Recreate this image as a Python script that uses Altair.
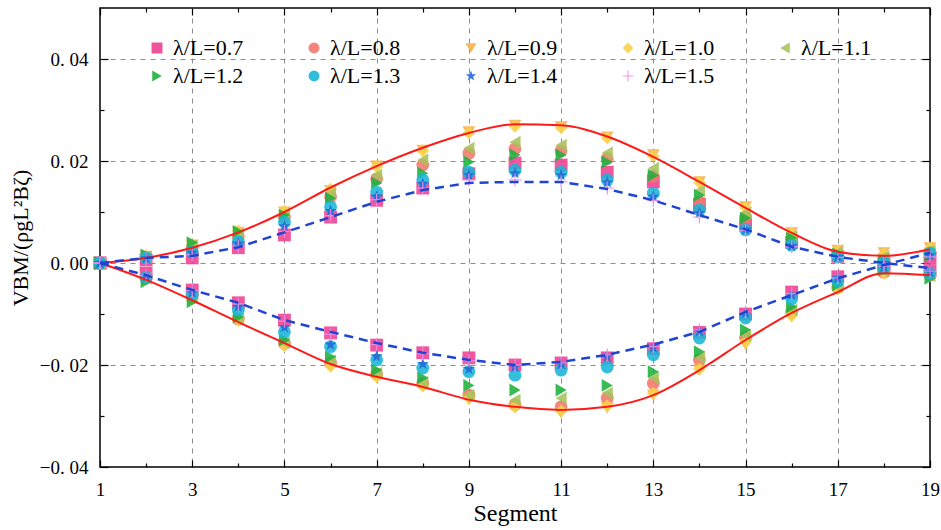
import altair as alt
import pandas as pd

# ---------------- data (VBM values in units of 1e-3) ----------------
segments = list(range(1, 20))
series = ["λ/L=0.7", "λ/L=0.8", "λ/L=0.9", "λ/L=1.0", "λ/L=1.1",
          "λ/L=1.2", "λ/L=1.3", "λ/L=1.4", "λ/L=1.5"]

up_07 = [0, 0.6, 1.0, 3.0, 5.5, 9.0, 12.3, 14.7, 17.5, 19.6, 19.2, 17.8, 15.9, 11.5, 7.5, 4.0, 1.3, -0.2, 1.0]
up_08 = [0, 1.1, 3.0, 5.2, 9.0, 13.0, 16.5, 19.2, 21.5, 22.4, 22.0, 20.5, 17.0, 12.0, 9.0, 4.8, 1.9, 1.0, 2.0]
up_09 = [0, 1.3, 3.5, 6.0, 10.0, 14.2, 19.0, 22.1, 25.7, 27.0, 26.7, 24.7, 21.2, 15.9, 11.0, 5.9, 2.5, 2.0, 3.0]
up_10 = [0, 1.4, 3.6, 6.3, 10.2, 14.5, 18.9, 22.0, 25.5, 26.8, 26.5, 24.5, 21.0, 15.8, 10.9, 5.8, 2.4, 1.8, 2.9]
up_11 = [0, 1.2, 3.3, 5.6, 9.6, 13.6, 17.2, 20.2, 22.5, 23.7, 23.1, 21.6, 18.6, 14.2, 9.8, 5.2, 2.1, 1.2, 2.4]
up_12 = [0, 1.6, 4.0, 6.2, 9.4, 12.7, 15.7, 17.6, 19.8, 21.2, 21.2, 19.8, 17.2, 13.3, 8.8, 4.9, 1.8, 0.4, 1.5]
up_13 = [0, 1.0, 2.2, 4.2, 8.0, 11.0, 13.9, 16.3, 17.8, 18.2, 17.8, 16.3, 13.7, 10.4, 6.5, 3.5, 1.2, 0.2, 2.0]
up_14 = [0, 0.9, 2.0, 3.8, 7.2, 10.2, 13.0, 15.5, 17.2, 17.6, 17.2, 15.8, 13.0, 9.8, 6.5, 3.3, 1.2, 0.0, 1.5]
up_15 = [0, 0.8, 1.6, 3.3, 6.2, 9.3, 12.4, 14.7, 16.3, 16.3, 15.9, 14.7, 12.3, 9.0, 6.4, 3.2, 1.1, -0.1, 1.2]

lo_07 = [0, -2.0, -5.3, -7.8, -11.2, -13.7, -16.1, -17.6, -18.6, -20.0, -19.6, -18.6, -16.8, -13.6, -10.0, -5.7, -2.7, -0.8, -1.5]
lo_08 = [0, -3.0, -6.8, -11.0, -15.8, -19.6, -21.8, -23.6, -25.9, -27.8, -28.2, -26.5, -23.6, -19.0, -14.6, -9.6, -4.8, -1.8, -2.4]
lo_09 = [0, -3.2, -7.2, -11.4, -16.4, -20.4, -22.5, -24.3, -26.8, -28.4, -29.4, -28.4, -25.9, -21.0, -16.0, -10.6, -5.3, -2.2, -2.6]
lo_10 = [0, -3.1, -7.0, -11.2, -16.2, -20.2, -22.3, -24.1, -26.5, -28.2, -29.0, -28.0, -25.5, -20.8, -15.5, -10.3, -5.1, -2.0, -2.5]
lo_11 = [0, -3.0, -6.9, -11.0, -15.6, -19.2, -21.6, -23.4, -25.9, -26.9, -26.5, -25.5, -22.5, -18.5, -14.2, -9.2, -4.6, -1.6, -2.5]
lo_12 = [0, -3.7, -7.6, -10.6, -15.1, -18.4, -21.0, -22.5, -24.0, -24.9, -24.9, -24.0, -21.3, -17.4, -13.1, -8.6, -4.3, -1.4, -3.0]
lo_13 = [0, -2.8, -6.2, -9.2, -13.5, -16.4, -19.0, -20.6, -21.3, -22.0, -21.0, -20.4, -18.0, -14.7, -10.8, -7.0, -3.5, -1.0, -2.0]
lo_14 = [0, -2.6, -5.8, -8.6, -12.6, -16.0, -18.3, -19.8, -20.8, -20.4, -19.8, -18.4, -16.6, -13.4, -9.8, -6.3, -3.0, -0.8, -1.8]
lo_15 = [0, -2.4, -5.4, -8.0, -11.4, -14.0, -16.0, -17.8, -19.2, -20.0, -19.6, -18.0, -16.4, -13.1, -9.6, -6.0, -2.9, -0.6, -1.6]

red_upper = [0, 1.0, 3.0, 6.0, 10.0, 14.8, 19.0, 22.6, 25.5, 27.2, 27.0, 24.8, 20.8, 15.9, 10.8, 5.9, 2.2, 1.4, 2.7]
red_lower = [0, -3.3, -7.3, -11.6, -15.7, -19.8, -22.3, -24.3, -26.8, -28.2, -28.8, -28.2, -25.9, -21.0, -15.1, -9.8, -5.7, -2.0, -2.4]
blue_upper = [0, 1.0, 1.4, 3.1, 6.0, 9.0, 12.0, 14.3, 15.7, 15.9, 15.9, 14.5, 12.3, 9.4, 6.6, 3.2, 1.2, 0.0, -1.0]
blue_lower = [0, -2.4, -5.3, -7.8, -11.2, -13.5, -15.7, -17.6, -19.0, -20.0, -19.4, -18.0, -16.0, -13.5, -9.6, -6.3, -3.0, -0.4, 2.0]

colors = ["#EE4092", "#F2786C", "#F7B04A", "#F8D24C", "#A6C35B",
          "#1DB13C", "#19B6D8", "#2468D8", "#EE8CE6"]

STAR = ("M0,-1L0.235,-0.324L0.951,-0.309L0.380,0.124L0.588,0.809L0,0.4"
        "L-0.588,0.809L-0.380,0.124L-0.951,-0.309L-0.235,-0.324Z")
PLUS = "M-1,-0.1H-0.1V-1H0.1V-0.1H1V0.1H0.1V1H-0.1V0.1H-1Z"
shapes = ["square", "circle", "triangle-down", "diamond", "triangle-left",
          "triangle-right", "circle", STAR, PLUS]

uppers = [up_07, up_08, up_09, up_10, up_11, up_12, up_13, up_14, up_15]
lowers = [lo_07, lo_08, lo_09, lo_10, lo_11, lo_12, lo_13, lo_14, lo_15]

rows = []
for i, name in enumerate(series):
    for branch, arr in (("u", uppers[i]), ("l", lowers[i])):
        for s, v in zip(segments, arr):
            rows.append({"series": name, "order": i, "branch": branch,
                         "seg": s, "v": v / 1000.0})
pts = pd.DataFrame(rows)

lrows = []
for name, kind, arr in (("ru", "red", red_upper), ("rl", "red", red_lower),
                        ("bu", "blue", blue_upper), ("bl", "blue", blue_lower)):
    for s, v in zip(segments, arr):
        lrows.append({"line": name, "kind": kind, "seg": s, "v": v / 1000.0})
lines = pd.DataFrame(lrows)

carrier = pd.DataFrame({"seg": [1, 19], "v": [-0.04, 0.05]})

# ---------------- chart ----------------
FONT = "Liberation Serif"
xs = alt.Scale(domain=[1, 19], nice=False, zero=False)
ys = alt.Scale(domain=[-0.04, 0.05], nice=False, zero=False)

x_major = [1, 3, 5, 7, 9, 11, 13, 15, 17, 19]
x_minor = [2, 4, 6, 8, 10, 12, 14, 16, 18]
y_major = [-0.04, -0.02, 0.0, 0.02, 0.04]
y_minor = [-0.03, -0.01, 0.01, 0.03]


def carrier_layer(xaxis, yaxis):
    return alt.Chart(carrier).mark_point(opacity=0).encode(
        x=alt.X("seg:Q", scale=xs, axis=xaxis),
        y=alt.Y("v:Q", scale=ys, axis=yaxis),
    )


def tick_axis(orient, values, size):
    return alt.Axis(orient=orient, values=values, offset=-size, tickSize=size,
                    tickColor="black", tickWidth=1.2, domain=False, grid=False,
                    labels=False, title=None)


grid_layer = carrier_layer(
    alt.Axis(orient="bottom", values=[3, 5, 7, 9, 11, 13, 15, 17], grid=True,
             gridDash=[5, 5], gridColor="#8c8c8c", gridWidth=1, ticks=False,
             labels=False, domain=False, title=None),
    alt.Axis(orient="left", values=[-0.02, 0.0, 0.02, 0.04], grid=True,
             gridDash=[5, 5], gridColor="#8c8c8c", gridWidth=1, ticks=False,
             labels=False, domain=False, title=None),
)

major_bl = carrier_layer(
    alt.Axis(orient="bottom", values=x_major, offset=-7, tickSize=7,
             tickColor="black", tickWidth=1.2, domain=False, grid=False,
             format="d", labelFont=FONT, labelFontSize=19, labelColor="black",
             labelPadding=13, labelFlush=False, labelOverlap=False,
             title="Segment", titleFont=FONT, titleFontSize=24,
             titleFontWeight="normal", titleColor="black", titlePadding=2),
    alt.Axis(orient="left", values=y_major, offset=-8, tickSize=8,
             tickColor="black", tickWidth=1.2, domain=False, grid=False,
             labelFont=FONT, labelFontSize=19, labelColor="black",
             labelPadding=12, labelFlush=False, labelOverlap=False,
             labelExpr="replace(format(datum.value, '.2f'), '.', '. ')",
             title="VBM/(ρgL²Bζ)", titleFont=FONT, titleFontSize=22,
             titleFontWeight="normal", titleColor="black", titlePadding=7),
)
minor_bl = carrier_layer(tick_axis("bottom", x_minor, 4), tick_axis("left", y_minor, 4))
major_tr = carrier_layer(tick_axis("top", x_major, 7), tick_axis("right", y_major, 8))
minor_tr = carrier_layer(tick_axis("top", x_minor, 4), tick_axis("right", y_minor, 4))

scatter = alt.Chart(pts).mark_point(filled=True, size=165, opacity=0.88,
                                    strokeWidth=0).encode(
    x=alt.X("seg:Q", scale=xs, axis=None),
    y=alt.Y("v:Q", scale=ys, axis=None),
    color=alt.Color("series:N", scale=alt.Scale(domain=series, range=colors),
                    legend=alt.Legend(orient="none", legendX=46, legendY=29,
                                      columns=5, direction="horizontal",
                                      title=None, padding=0,
                                      labelFont=FONT, labelFontSize=22,
                                      labelColor="black", labelOffset=5,
                                      symbolSize=120, columnPadding=59,
                                      rowPadding=6, symbolStrokeWidth=0,
                                      symbolOpacity=0.9)),
    shape=alt.Shape("series:N", scale=alt.Scale(domain=series, range=shapes),
                    legend=None),
    order=alt.Order("order:Q"),
)

red = alt.Chart(lines).transform_filter(alt.datum.kind == "red").mark_line(
    color="#FF1A1A", strokeWidth=2, interpolate="monotone").encode(
    x=alt.X("seg:Q", scale=xs, axis=None),
    y=alt.Y("v:Q", scale=ys, axis=None),
    detail="line:N",
)
blue = alt.Chart(lines).transform_filter(alt.datum.kind == "blue").mark_line(
    color="#1F44D4", strokeWidth=2.5, strokeDash=[9, 6]).encode(
    x=alt.X("seg:Q", scale=xs, axis=None),
    y=alt.Y("v:Q", scale=ys, axis=None),
    detail="line:N",
)

chart = alt.layer(grid_layer, minor_bl, minor_tr, major_tr, major_bl,
                  scatter, red, blue).resolve_axis(
    x="independent", y="independent"
).properties(
    width=830, height=459,
    autosize=alt.AutoSizeParams(type="none"),
    padding={"left": 100, "top": 8, "right": 11, "bottom": 63},
    background="white",
).configure(font=FONT).configure_view(stroke="black", strokeWidth=1.5)

chart.save("out.html", embed_options={"renderer": "svg", "actions": False})
